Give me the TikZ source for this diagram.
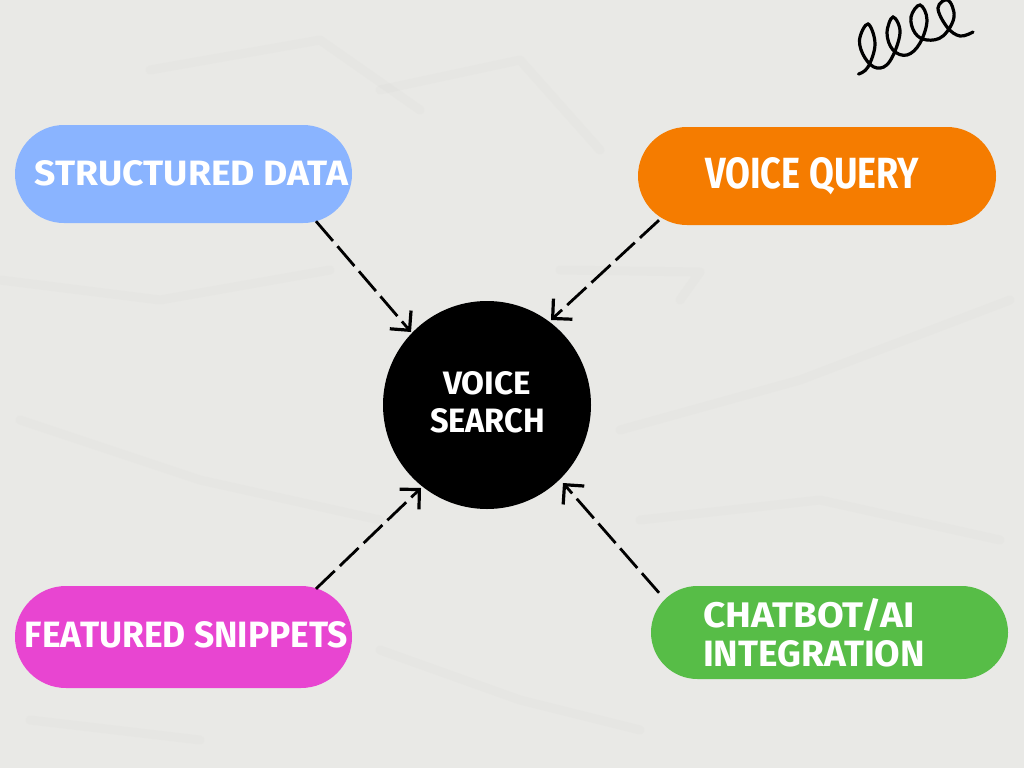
\documentclass[tikz,border=0pt]{standalone}
\usepackage{fontspec}
\setmainfont{Fira Sans}
\usepackage{graphicx}
\usetikzlibrary{arrows.meta,shapes.misc,calc}
\definecolor{paper}{HTML}{E9E9E6}
\definecolor{crease}{HTML}{D8D8D4}
\definecolor{blueP}{HTML}{8AB4FF}
\definecolor{orangeP}{HTML}{F57C00}
\definecolor{pinkP}{HTML}{E845D1}
\definecolor{greenP}{HTML}{57BD47}
\newcommand{\fitlabel}[3]{\resizebox{#1pt}{#2pt}{\bfseries #3}}
\tikzset{
  pill/.style={rounded rectangle,rounded rectangle arc length=180,draw=none,inner sep=0pt,text=white,align=left},
  hub/.style={circle,fill=black,draw=none,inner sep=0pt,minimum size=208pt,text=white},
  flow/.style={line width=2.8pt,draw=black,dash pattern=on 26pt off 7pt,
     -{Straight Barb[length=14pt,width=28pt,line width=3.2pt]}},
  crease line/.style={crease,line width=9pt,opacity=.16,line cap=round,line join=round},
  label text/.style={inner sep=0pt,text=white}
}
\begin{document}
\begin{tikzpicture}[x=1pt,y=-1pt]
\useasboundingbox (0,0) rectangle (1024,768);
\fill[paper] (0,0) rectangle (1024,768);
% paper creases
\draw[crease line] (0,280) -- (160,300) -- (330,270);
\draw[crease line] (560,270) -- (700,272) -- (680,300);
\draw[crease line] (20,420) -- (200,480) -- (380,520);
\draw[crease line] (600,150) -- (520,60) -- (380,90);
\draw[crease line] (620,430) -- (800,380) -- (1010,300);
\draw[crease line] (150,70) -- (320,40) -- (420,110);
\draw[crease line] (640,520) -- (820,500) -- (1000,540);
\draw[crease line] (380,650) -- (520,700) -- (640,730);
\draw[crease line] (30,720) -- (200,740);
% squiggle
\draw[line width=3.2pt,line cap=round,black] plot[smooth,tension=.65] coordinates {
 (858.5,74) (868,67) (875,44) (868,24) (859.5,40) (865,58) (877,68) (890,61) (900,33) (893,17) (887,33) (893,50) (907,55) (920,43) (927,20) (920,5) (911,17) (915,33) (927,40) (943,36) (954,17) (948,0) (938,8) (947,27) (960,36) (973,32)};
% nodes
\node[pill,fill=blueP,minimum width=337pt,minimum height=98pt] (sd) at (183.5,174) {};
\node[pill,fill=orangeP,minimum width=358pt,minimum height=98pt] (vq) at (817,176) {};
\node[pill,fill=pinkP,minimum width=337pt,minimum height=102pt] (fs) at (183.5,637) {};
\node[pill,fill=greenP,minimum width=357pt,minimum height=93pt] (ci) at (829.5,632.5) {};
\node[hub] (vs) at (487,405) {};
% labels
\node[label text] (sdt) at (191.5,173.5) {\fitlabel{313}{25}{STRUCTURED DATA}};
\node[label text] (vqt) at (812,176) {\fitlabel{214}{31}{VOICE QUERY}};
\node[label text] (fst) at (186.5,635) {\fitlabel{323}{26}{FEATURED SNIPPETS}};
\node[label text] (cit) at (809,615) {\fitlabel{212}{29}{CHATBOT/AI}};
\node[label text] (cit2) at (814,654) {\fitlabel{222}{26}{INTEGRATION}};
\node[label text] (vst) at (487,383) {\fitlabel{88}{23}{VOICE}};
\node[label text] (vst2) at (487.5,421) {\fitlabel{115}{24}{SEARCH}};
% connectors
\draw[flow] ($(sd.south)+(132.5,-2)$) -- ($(vs.center)+(-76,-73)$);
\draw[flow] ($(vq.south)+(-158,-5)$) -- ($(vs.center)+(64,-85)$);
\draw[flow] ($(fs.north)+(132.5,3)$) -- ($(vs.center)+(-66,83)$);
\draw[flow] ($(ci.north)+(-170.5,7)$) -- ($(vs.center)+(76,78)$);
\end{tikzpicture}
\end{document}
